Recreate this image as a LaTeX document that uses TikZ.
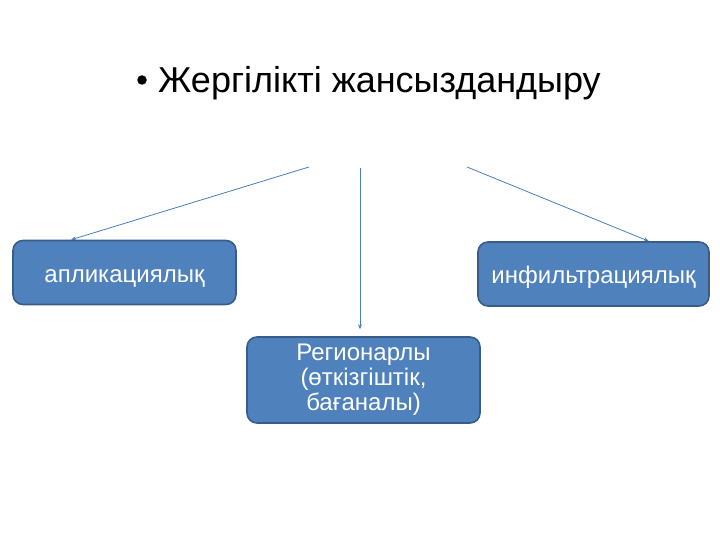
\documentclass[tikz,border=0pt]{standalone}
\usepackage{fontspec}
\setmainfont{Liberation Sans}
\usetikzlibrary{arrows.meta}
\definecolor{boxfill}{HTML}{4F81BD}
\definecolor{boxedge}{HTML}{385D8A}
\definecolor{arrcol}{HTML}{4A7EBB}
\tikzset{
  box/.style={draw=boxedge, line width=1.6pt, fill=boxfill, rounded corners=10pt,
    text=white, font=\fontsize{24}{25}\selectfont, align=center, inner sep=0pt},
  oneline/.style={text height=19pt, text depth=0pt},
  arr/.style={draw=arrcol, line width=0.8pt, -{Stealth[length=5pt,width=4pt]}}
}
\begin{document}
\begin{tikzpicture}[x=1pt,y=-1pt]
\useasboundingbox (0,0) rectangle (720,540);
\node[anchor=base west, inner sep=0pt, font=\fontsize{36}{43}\selectfont] (title) at (158,93) {Жергілікті жансыздандыру};
\node[circle, fill=black, inner sep=0pt, minimum size=9.5pt] (bul) at (142,80) {};
\node[box, oneline, minimum width=223pt, minimum height=64pt] (a) at (124.5,272.5) {апликациялық};
\node[box, oneline, minimum width=231pt, minimum height=64pt] (b) at (593.5,274) {инфильтрациялық};
\node[box, minimum width=233pt, minimum height=86pt] (c) at (363.5,380) {Регионарлы\\(өткізгіштік,\\бағаналы)};
\coordinate (s1) at (309,167);
\coordinate (s2) at (360,168);
\coordinate (s3) at (467,167);
\draw[arr] (s1) -- ([xshift=59pt]a.north west);
\draw[arr] (s2) -- ([yshift=7pt]c.north -| s2);
\draw[arr] (s3) -- ([xshift=-61pt]b.north east);
\end{tikzpicture}
\end{document}
